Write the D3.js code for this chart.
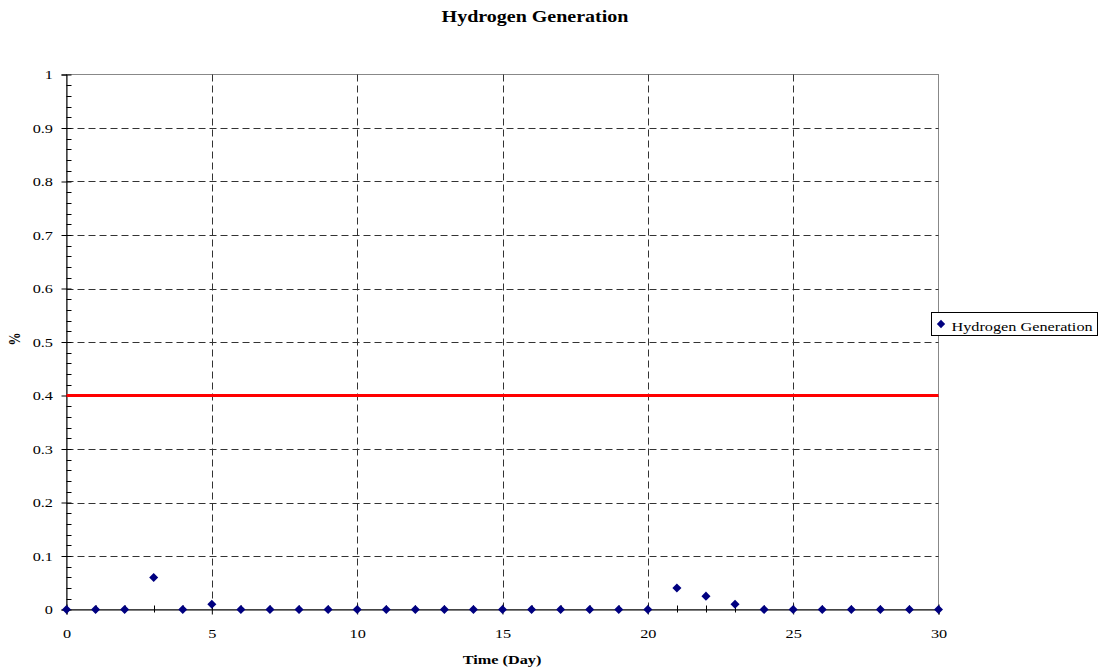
<!DOCTYPE html>
<html>
<head>
<meta charset="utf-8">
<script src="https://d3js.org/d3.v7.min.js"></script>
<style>
  body { margin: 0; background: #fff; }
  text { font-family: "Liberation Serif", "Times New Roman", serif; fill: #000; }
</style>
</head>
<body>
<svg id="chart" width="1104" height="670"></svg>
<script>
// Hydrogen generation readings per day
const days = [0,1,2,3,4,5,6,7,8,9,10,11,12,13,14,15,16,17,18,19,20,21,22,23,24,25,26,27,28,29,30];
const hydrogen = [0,0,0,0.06,0,0.01,0,0,0,0,0,0,0,0,0,0,0,0,0,0,0,0.04,0.025,0.01,0,0,0,0,0,0,0];
const limitValue = 0.4;
const xTicks = [0,5,10,15,20,25,30];
const yTicks = [0,0.1,0.2,0.3,0.4,0.5,0.6,0.7,0.8,0.9,1];
const seriesName = "Hydrogen Generation";

const svg = d3.select("#chart");
const plotLeft = 66.5, plotRight = 938.5, plotTop = 74.5, plotBottom = 609.5;
const stretch = 1.25; // text is set slightly wide

const x = d3.scaleLinear().domain([0, 30]).range([plotLeft, plotRight]);
const y = d3.scaleLinear().domain([0, 1]).range([plotBottom, plotTop]);

// Plot area frame (top and right edges)
svg.append("rect")
  .attr("x", plotLeft).attr("y", plotTop)
  .attr("width", plotRight - plotLeft).attr("height", plotBottom - plotTop)
  .attr("fill", "none").attr("stroke", "#888").attr("stroke-width", 1);

// Dashed gridlines
svg.append("g").selectAll("line")
  .data(yTicks.filter(d => d > 0 && d < 1))
  .join("line")
  .attr("x1", plotLeft).attr("x2", plotRight)
  .attr("y1", d => Math.round(y(d)) + 0.5).attr("y2", d => Math.round(y(d)) + 0.5)
  .attr("stroke", "#333").attr("stroke-dasharray", "7,4");

svg.append("g").selectAll("line")
  .data(xTicks.filter(d => d > 0 && d < 30))
  .join("line")
  .attr("y1", plotTop).attr("y2", plotBottom)
  .attr("x1", d => Math.round(x(d)) + 0.5).attr("x2", d => Math.round(x(d)) + 0.5)
  .attr("stroke", "#333").attr("stroke-dasharray", "7,4");

// Y axis: major ticks cross the axis, minor ticks point inward
const yAxis = svg.append("g").attr("transform", `translate(${plotLeft},0)`)
  .call(d3.axisLeft(y).tickValues(yTicks).tickSize(5).tickFormat(d3.format("")));
yAxis.select(".domain").attr("stroke", "#000");
yAxis.selectAll(".tick line").attr("x1", 5).attr("stroke", "#000");
yAxis.selectAll(".tick text")
  .attr("x", 0)
  .attr("transform", `translate(-13.5,0) scale(${stretch},1)`)
  .style("font-size", "13px").style("font-family", "Liberation Serif, serif");

const yMinor = d3.range(0, 50).map(i => i * 0.02).filter(v => Math.abs(v * 10 - Math.round(v * 10)) > 1e-6);
svg.append("g").selectAll("line")
  .data(yMinor).join("line")
  .attr("x1", plotLeft).attr("x2", plotLeft + 5)
  .attr("y1", d => Math.round(y(d)) + 0.5).attr("y2", d => Math.round(y(d)) + 0.5)
  .attr("stroke", "#000");

// X axis
const xAxis = svg.append("g").attr("transform", `translate(0,${plotBottom})`)
  .call(d3.axisBottom(x).tickValues(xTicks).tickSize(5).tickPadding(14).tickFormat(d3.format("d")));
xAxis.select(".domain").attr("stroke", "#000");
xAxis.selectAll(".tick line").attr("y1", -5).attr("stroke", "#000");
xAxis.selectAll(".tick text")
  .attr("transform", `scale(${stretch},1)`)
  .style("font-size", "13px").style("font-family", "Liberation Serif, serif");

svg.append("g").selectAll("line")
  .data(days.filter(d => d % 5 !== 0)).join("line")
  .attr("x1", d => Math.round(x(d)) + 0.5).attr("x2", d => Math.round(x(d)) + 0.5)
  .attr("y1", plotBottom - 4).attr("y2", plotBottom + 3)
  .attr("stroke", "#000");

// Limit line
svg.append("line")
  .attr("x1", plotLeft).attr("x2", plotRight)
  .attr("y1", y(limitValue)).attr("y2", y(limitValue))
  .attr("stroke", "#ff0000").attr("stroke-width", 3);

// Data markers
const diamond = d3.symbol().type(d3.symbolDiamond2).size(52);
svg.append("g").selectAll("path")
  .data(days.map((d, i) => ({ day: d, v: hydrogen[i] })))
  .join("path")
  .attr("d", diamond)
  .attr("transform", d => `translate(${x(d.day)},${y(d.v)})`)
  .attr("fill", "#000080");

// Title and axis titles
function label(px, py, str, size, bold, anchor, rot) {
  return svg.append("text")
    .attr("transform", `translate(${px},${py}) scale(${stretch},1)` + (rot ? ` rotate(${rot})` : ""))
    .attr("text-anchor", anchor)
    .style("font-size", size + "px").style("font-weight", bold ? "bold" : "normal")
    .text(str);
}

label(535, 21.5, "Hydrogen Generation", 16, true, "middle");
label(502, 664, "Time (Day)", 13, true, "middle");
label(20, 339, "%", 13, true, "middle", -90);

// Legend
const lg = svg.append("g");
lg.append("rect")
  .attr("x", 931.5).attr("y", 312.5).attr("width", 166).attr("height", 23)
  .attr("fill", "#fff").attr("stroke", "#000");
lg.append("path")
  .attr("d", d3.symbol().type(d3.symbolDiamond2).size(44))
  .attr("transform", "translate(941,324)")
  .attr("fill", "#000080");
label(951.5, 330.5, seriesName, 13, false, "start");
</script>
</body>
</html>
